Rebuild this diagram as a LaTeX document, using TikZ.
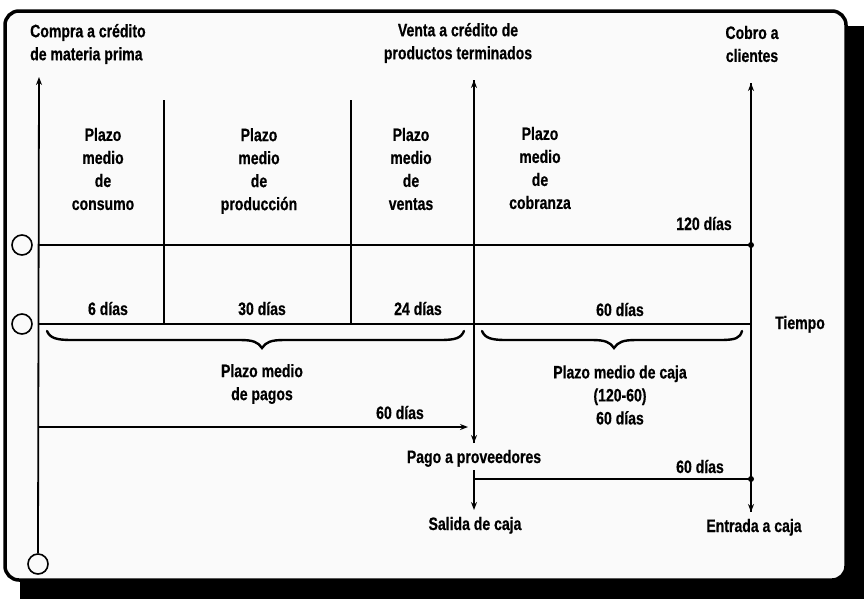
\documentclass[tikz,border=0pt]{standalone}
\usepackage{fontspec}
\setmainfont{Liberation Sans}[FakeStretch=0.78, BoldFeatures={FakeBold=0.6}]
\usetikzlibrary{arrows.meta}
\begin{document}
\begin{tikzpicture}[x=1pt,y=-1pt,
  lbl/.style={font=\bfseries\fontsize{18}{23}\selectfont, inner sep=0pt, align=center},
  ln/.style={line width=1.8pt},
  arr/.style={ln,-{Stealth[length=8pt,width=6pt]}},
  hole/.style={circle, draw, line width=1.6pt, minimum size=20pt, inner sep=0pt},
  dot/.style={circle, fill, minimum size=6pt, inner sep=0pt},
  bracepath/.style={line width=2.4pt, line cap=round}]
\useasboundingbox (0,0) rectangle (864,598);
% shadow and frame
\fill[black, rounded corners=14pt] (20,26) rectangle (885,620);
\filldraw[fill=gray!4, draw=black, line width=3.5pt, rounded corners=14pt] (5,11) rectangle (846,580);
% punch holes
\node[hole] (h1) at (22,245) {};
\node[hole] (h2) at (22,324) {};
\node[hole] (h3) at (38,564) {};
% coordinates
\coordinate (axTop) at (39,77);
\coordinate (t1L) at (39,245);
\coordinate (t2L) at (39,324);
\coordinate (t3L) at (39,427);
\coordinate (t3R) at (468,427);
\coordinate (s1T) at (164,100);
\coordinate (s1B) at (164,324);
\coordinate (s2T) at (351,100);
\coordinate (s2B) at (351,324);
\coordinate (mTop) at (474,80);
\coordinate (mBot) at (474,443);
\coordinate (lTop) at (474,470);
\coordinate (lBot) at (474,510);
\coordinate (lMid) at (474,479);
\coordinate (rTop) at (751,83);
\coordinate (rBot) at (751,512);
\coordinate (t2R) at (751,324);
\node[dot] (d1) at (751,245) {};
\node[dot] (d2) at (751,479) {};
% axes and lines
\draw[arr] (h3.north) -- (axTop);
\draw[ln] (t1L) -- (d1.center);
\draw[ln] (t2L) -- (t2R);
\draw[arr] (t3L) -- (t3R);
\draw[ln] (s1T) -- (s1B);
\draw[ln] (s2T) -- (s2B);
\draw[arr] (mBot) -- (mTop);
\draw[arr] (mTop) -- (mBot);
\draw[arr] (lTop) -- (lBot);
\draw[ln] (lMid) -- (d2.center);
\draw[arr] (rBot) -- (rTop);
\draw[arr] (rTop) -- (rBot);
% braces
\draw[bracepath] (47,331) .. controls (50,338) and (56,340) .. (72,340) -- (240,340)
  .. controls (253,340) and (258,342) .. (262,348)
  .. controls (266,342) and (271,340) .. (284,340) -- (440,340)
  .. controls (456,340) and (461,338) .. (464,331);
\draw[bracepath] (482,331) .. controls (485,338) and (491,340) .. (506,340) -- (592,340)
  .. controls (605,340) and (610,342) .. (614,348)
  .. controls (618,342) and (623,340) .. (636,340) -- (720,340)
  .. controls (736,340) and (740,338) .. (742,331);
% labels
\node[lbl, anchor=west, align=left] (compra) at (30,44) {Compra a crédito\\de materia prima};
\node[lbl] (venta) at (458,43) {Venta a crédito de\\productos terminados};
\node[lbl] (cobro) at (752,44) {Cobro a\\clientes};
\node[lbl] (consumo) at (103,169) {Plazo\\medio\\de\\consumo};
\node[lbl] (produccion) at (259,171) {Plazo\\medio\\de\\producción};
\node[lbl] (ventas) at (411,169) {Plazo\\medio\\de\\ventas};
\node[lbl] (cobranza) at (540,168) {Plazo\\medio\\de\\cobranza};
\node[lbl, anchor=base] (d120lbl) at (704,230) {120 días};
\node[lbl, anchor=base] (d6lbl) at (108,315) {6 días};
\node[lbl, anchor=base] (d30lbl) at (262,315) {30 días};
\node[lbl, anchor=base] (d24lbl) at (418,315) {24 días};
\node[lbl, anchor=base] (d60lbl) at (620,316) {60 días};
\node[lbl, anchor=base] (tiempo) at (800,329) {Tiempo};
\node[lbl] (pagos) at (262,384) {Plazo medio\\de pagos};
\node[lbl] (caja) at (620,395) {Plazo medio de caja\\(120-60)\\60 días};
\node[lbl, anchor=base] (d60a) at (400,419) {60 días};
\node[lbl, anchor=base] (pago) at (474,463) {Pago a proveedores};
\node[lbl, anchor=base] (d60b) at (700,473) {60 días};
\node[lbl, anchor=base] (salida) at (475,530) {Salida de caja};
\node[lbl, anchor=base] (entrada) at (754,532) {Entrada a caja};
\end{tikzpicture}
\end{document}
